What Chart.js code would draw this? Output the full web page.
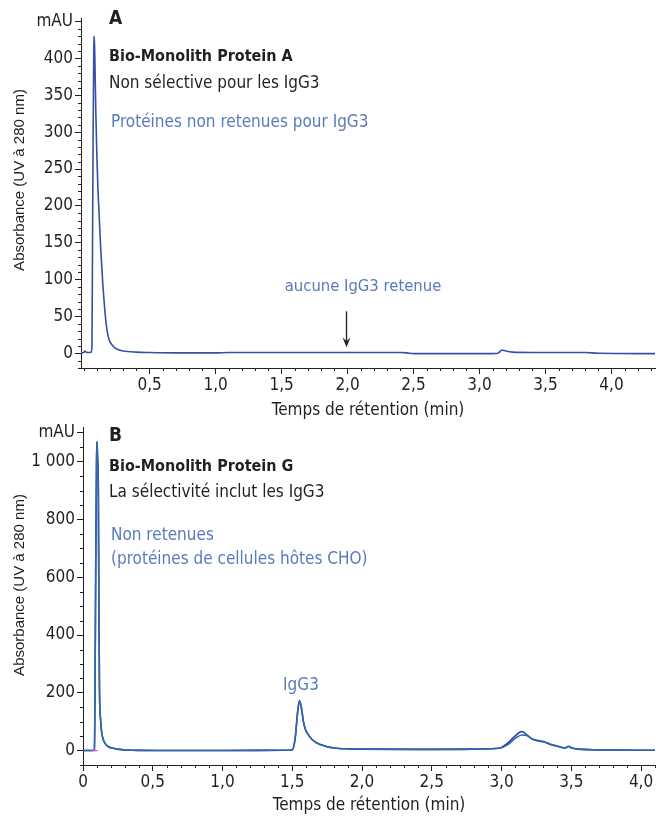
<!DOCTYPE html>
<html lang="fr">
<head>
<meta charset="UTF-8">
<title>Bio-Monolith Protein A / Protein G</title>
<script src="https://cdn.jsdelivr.net/npm/chart.js"></script>
<style>
  body { margin: 0; background: #fff; }
  .box { position: absolute; left: 0; width: 656px; }
</style>
</head>
<body>
<div class="box" style="top:0;height:425px"><canvas id="chartA"></canvas></div>
<div class="box" style="top:415px;height:407px"><canvas id="chartB"></canvas></div>

<script>
// --- panel A : Bio-Monolith Protein A
const timeA = [-0.02, 0.0, 0.008, 0.02, 0.04, 0.058, 0.063, 0.066, 0.072, 0.077, 0.081, 0.086, 0.092,
  0.100, 0.108, 0.117, 0.130, 0.145, 0.159, 0.172, 0.19, 0.222, 0.26, 0.30, 0.40, 0.50, 0.70, 1.0,
  1.1, 1.5, 2.0, 2.4, 2.45, 2.5, 2.8, 3.1, 3.14, 3.17, 3.2, 3.25, 3.4, 3.8, 3.9, 4.33];
const absA = [0.5, 1, 3, 1.5, 1, 1.5, 10, 100, 300, 415, 430, 390, 330,
  270, 225, 190, 140, 95, 62, 38, 20, 10, 5, 3, 1.5, 1, 0.5, 0.5,
  1, 1, 1, 1, 0.5, -0.5, -0.5, -0.5, 0, 4.5, 3, 1.5, 1, 1, 0, -0.5];

// --- panel B : Bio-Monolith Protein G (two overlaid injections)
const timeB = [0.0, 0.07, 0.082, 0.086, 0.092, 0.097, 0.100, 0.104, 0.110, 0.114, 0.118, 0.126, 0.135,
  0.145, 0.158, 0.18, 0.218, 0.26, 0.31, 0.40, 0.60, 1.0, 1.45, 1.50, 1.52, 1.54, 1.552, 1.565, 1.58,
  1.593, 1.615, 1.638, 1.67, 1.713, 1.75, 1.80, 1.90, 2.0, 2.5, 2.8, 2.95, 3.0, 3.05, 3.10, 3.145,
  3.18, 3.22, 3.27, 3.31, 3.35, 3.39, 3.455, 3.48, 3.50, 3.55, 3.65, 3.80, 4.10];
const absB1 = [0, 0, 2, 200, 700, 1000, 1070, 1020, 900, 500, 220, 107, 60,
  38, 25, 14, 8, 4, 2, 0.5, 0, 0, 1, 3, 40, 140, 172, 150, 100,
  75, 55, 40, 28, 19, 13, 9, 6, 5, 4, 5, 7, 11, 28, 52, 66,
  55, 40, 34, 30, 22, 17, 9, 15, 10, 5, 3, 2, 1];
const absB2 = [0, 0, 2, 200, 700, 1000, 1070, 1020, 900, 500, 220, 107, 60,
  38, 25, 14, 8, 4, 2, 0.5, 0, 0, 1, 3, 40, 140, 172, 150, 100,
  75, 55, 40, 28, 19, 13, 9, 6, 5, 4, 5, 7, 10, 22, 43, 54,
  52, 40, 32, 29, 21, 16, 9, 14, 9, 5, 3, 2, 1];
// short pink baseline marker near the injection
const markTimeB = [0.06, 0.105];
const markAbsB = [0, 0];

const ticksXA = [0.5, 1.0, 1.5, 2.0, 2.5, 3.0, 3.5, 4.0];
const ticksYA = [0, 50, 100, 150, 200, 250, 300, 350, 400, 450];
const ticksXB = [0, 0.5, 1.0, 1.5, 2.0, 2.5, 3.0, 3.5, 4.0];
const ticksYB = [0, 200, 400, 600, 800, 1000, 1100];

const INK = '#231f20';
const BLUE_TXT = '#5a7abd';
const NARROW = '"Liberation Sans Narrow", "DejaVu Sans Condensed", sans-serif';
const YTITLE = 'Absorbance (UV à 280 nm)';

function pts(xs, ys) { return xs.map((x, i) => ({ x: x, y: ys[i] })); }
function range(a, b, step) {
  const out = [];
  for (let v = a; v <= b + 1e-9; v += step) out.push(Math.round(v * 1000) / 1000);
  return out;
}
const fmtX = v => v === 0 ? '0' : v.toFixed(1).replace('.', ',');

// minor ticks, y title, text labels, arrow
const overlay = {
  id: 'overlay',
  afterDraw(chart, args, o) {
    const ctx = chart.ctx, xs = chart.scales.x, ys = chart.scales.y;
    ctx.save();
    ctx.strokeStyle = INK;
    ctx.lineWidth = 1;
    o.minorX.forEach(v => {
      const p = Math.round(xs.getPixelForValue(v)) + 0.5;
      ctx.beginPath(); ctx.moveTo(p, xs.top); ctx.lineTo(p, xs.top + 3); ctx.stroke();
    });
    o.minorY.forEach(v => {
      const p = Math.round(ys.getPixelForValue(v)) + 0.5;
      ctx.beginPath(); ctx.moveTo(ys.right, p); ctx.lineTo(ys.right - 3, p); ctx.stroke();
    });

    ctx.textBaseline = 'middle';
    // y axis title
    ctx.save();
    ctx.translate(20, o.yTitleAt);
    ctx.rotate(-Math.PI / 2);
    ctx.font = '15px "Liberation Sans", Arial, sans-serif';
    ctx.fillStyle = INK;
    ctx.textAlign = 'center';
    ctx.fillText(YTITLE, 0, 0);
    ctx.restore();

    o.texts.forEach(t => {
      ctx.font = t.font;
      ctx.fillStyle = t.color;
      ctx.textAlign = t.align || 'left';
      ctx.fillText(t.text, t.x, t.y);
    });
    if (o.arrow) {
      const ax = Math.round(xs.getPixelForValue(o.arrow.x)) + 0.5;
      const y0 = ys.getPixelForValue(o.arrow.from), y1 = ys.getPixelForValue(o.arrow.to);
      ctx.strokeStyle = INK; ctx.fillStyle = INK; ctx.lineWidth = 1.3;
      ctx.beginPath(); ctx.moveTo(ax, y0); ctx.lineTo(ax, y1 - 6); ctx.stroke();
      ctx.beginPath(); ctx.moveTo(ax - 4, y1 - 10); ctx.lineTo(ax, y1); ctx.lineTo(ax + 4, y1 - 10);
      ctx.lineTo(ax, y1 - 6); ctx.closePath(); ctx.fill();
    }
    ctx.restore();
  }
};

function axisX(min, max, majors, hideZero, titleShift) {
  return {
    type: 'linear', position: 'bottom', min: min, max: max,
    border: { color: INK, width: 1 },
    grid: { drawOnChartArea: false, drawTicks: true, tickLength: 6, color: INK },
    afterBuildTicks: s => { s.ticks = majors.map(v => ({ value: v })); },
    afterFit: s => { s.height = 57; },
    ticks: {
      autoSkip: false, maxRotation: 0, padding: 1, color: INK,
      font: { family: NARROW, size: 17 },
      callback: v => (hideZero && v === 0) ? '' : fmtX(v)
    },
    title: {
      display: true, text: 'Temps de rétention (min)', color: INK,
      font: { family: NARROW, size: 17, lineHeight: 1 }, padding: { top: 0, bottom: titleShift }
    }
  };
}

function axisY(min, max, majors, topLabel, width) {
  return {
    type: 'linear', position: 'left', min: min, max: max,
    border: { color: INK, width: 1 },
    grid: { drawOnChartArea: false, drawTicks: true, tickLength: 6, color: INK },
    afterBuildTicks: s => { s.ticks = majors.map(v => ({ value: v })); },
    afterFit: s => { s.width = width; },
    ticks: {
      padding: 2, color: INK,
      font: { family: NARROW, size: 17 },
      callback: v => v === topLabel ? 'mAU' : (v >= 1000 ? '1 000' : String(v))
    }
  };
}

function baseOptions() {
  return {
    responsive: true, maintainAspectRatio: false, animation: false,
    plugins: { legend: { display: false }, tooltip: { enabled: false } },
    elements: { point: { radius: 0 }, line: { borderWidth: 1.6, cubicInterpolationMode: 'monotone' } }
  };
}

const optA = baseOptions();
optA.layout = { padding: { top: 18, right: 1, left: 0, bottom: 0 } };
optA.scales = { x: axisX(-0.02, 4.33, ticksXA, true, 6), y: axisY(-20, 455, ticksYA, 450, 81) };
optA.plugins.overlay = {
  yTitleAt: 180,
  minorX: range(0, 4.3, 0.1).filter(v => !ticksXA.includes(v)),
  minorY: range(-20, 450, 10).filter(v => !ticksYA.includes(v)),
  arrow: { x: 1.99, from: 57, to: 8 },
  texts: [
    { text: 'A', x: 109, y: 19, font: 'bold 19px ' + NARROW, color: INK },
    { text: 'Bio-Monolith Protein A', x: 109, y: 57, font: 'bold 16px ' + NARROW, color: INK },
    { text: 'Non sélective pour les IgG3', x: 109, y: 84, font: '17px ' + NARROW, color: INK },
    { text: 'Protéines non retenues pour IgG3', x: 111, y: 123, font: '17px ' + NARROW, color: BLUE_TXT },
    { text: 'aucune IgG3 retenue', x: 363, y: 287, font: '16.5px ' + NARROW, color: BLUE_TXT, align: 'center' }
  ]
};

new Chart(document.getElementById('chartA'), {
  type: 'line',
  data: { datasets: [{ data: pts(timeA, absA), borderColor: '#3551a6', fill: false }] },
  options: optA,
  plugins: [overlay]
});

const optB = baseOptions();
optB.layout = { padding: { top: 12, right: 1, left: 0, bottom: 0 } };
optB.scales = { x: axisX(0, 4.1, ticksXB, false, 8), y: axisY(-50, 1120, ticksYB, 1100, 83) };
optB.plugins.overlay = {
  yTitleAt: 170,
  minorX: range(0, 4.1, 0.1).filter(v => !ticksXB.includes(v)),
  minorY: range(-50, 1100, 50).filter(v => !ticksYB.includes(v)),
  texts: [
    { text: 'B', x: 109, y: 21, font: 'bold 19px ' + NARROW, color: INK },
    { text: 'Bio-Monolith Protein G', x: 109, y: 52, font: 'bold 16px ' + NARROW, color: INK },
    { text: 'La sélectivité inclut les IgG3', x: 109, y: 78, font: '17px ' + NARROW, color: INK },
    { text: 'Non retenues', x: 111, y: 121, font: '17px ' + NARROW, color: BLUE_TXT },
    { text: '(protéines de cellules hôtes CHO)', x: 111, y: 145, font: '17px ' + NARROW, color: BLUE_TXT },
    { text: 'IgG3', x: 301, y: 271, font: '17px ' + NARROW, color: BLUE_TXT, align: 'center' }
  ]
};

new Chart(document.getElementById('chartB'), {
  type: 'line',
  data: {
    datasets: [
      { data: pts(markTimeB, markAbsB), borderColor: '#d8559a', borderWidth: 1.2, fill: false },
      { data: pts(timeB, absB2), borderColor: '#3466b0', fill: false },
      { data: pts(timeB, absB1), borderColor: '#1b4683', fill: false }
    ]
  },
  options: optB,
  plugins: [overlay]
});
</script>
</body>
</html>
